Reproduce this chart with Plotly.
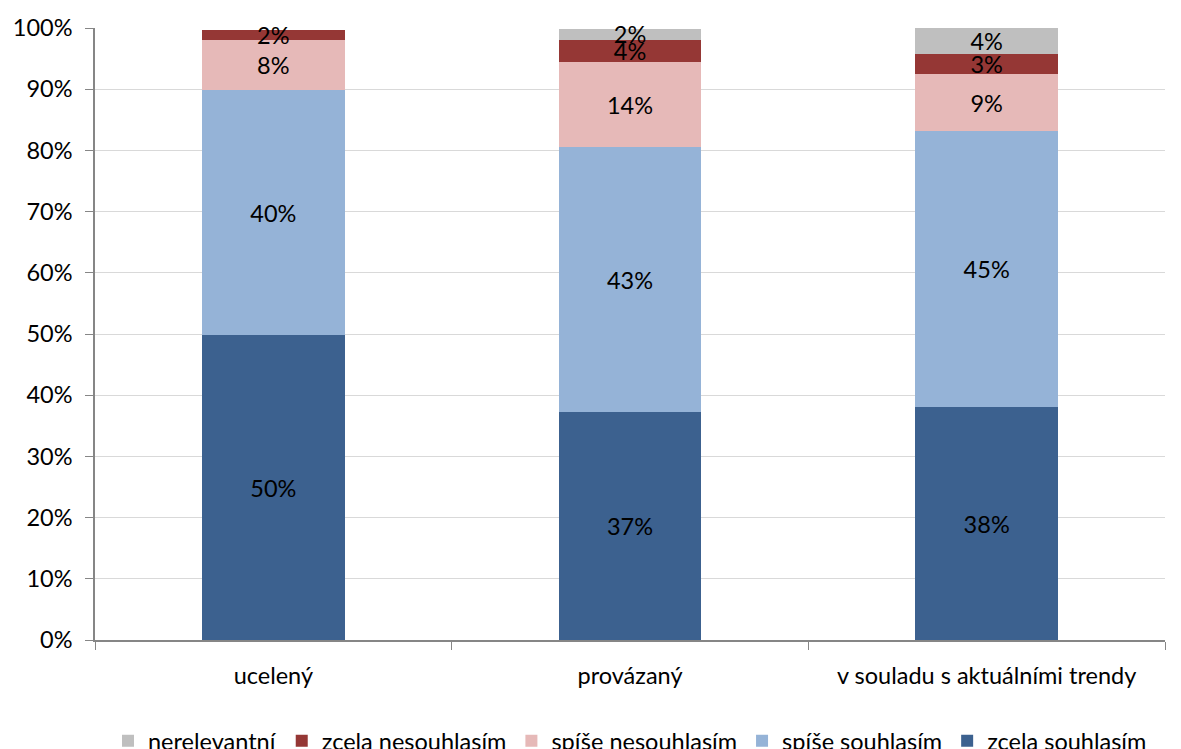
import plotly.graph_objects as go

categories = ["ucelený", "provázaný", "v souladu s aktuálními trendy"]

zcela_souhlasim = [49.8, 37.2, 38.0]
spise_souhlasim = [40.0, 43.3, 45.1]
spise_nesouhlasim = [8.2, 13.9, 9.4]
zcela_nesouhlasim = [1.6, 3.6, 3.2]
nerelevantni = [None, 1.9, 4.3]

series = [
    ("zcela souhlasím", zcela_souhlasim, "#3C618F"),
    ("spíše souhlasím", spise_souhlasim, "#95B3D7"),
    ("spíše nesouhlasím", spise_nesouhlasim, "#E6B9B8"),
    ("zcela nesouhlasím", zcela_nesouhlasim, "#953735"),
    ("nerelevantní", nerelevantni, "#BFBFBF"),
]

FONT = "Lato"
FS = 23.5

fig = go.Figure()
for name, vals, color in series:
    fig.add_trace(go.Bar(
        name=name, x=categories, y=vals,
        marker=dict(color=color, line=dict(width=0)),
        texttemplate="%{y:.0f}%",
        textposition="inside",
        insidetextanchor="middle",
        textangle=0,
        textfont=dict(family=FONT, size=FS, color="black"),
        cliponaxis=False,
        width=0.4,
    ))

fig.update_layout(
    barmode="stack",
    width=1181, height=749,
    margin=dict(l=87, r=24, t=20, b=117, autoexpand=False),
    paper_bgcolor="white", plot_bgcolor="white",
    font=dict(family=FONT, size=FS, color="black"),
    uniformtext=dict(minsize=FS, mode="show"),
    showlegend=True,
    legend=dict(
        orientation="h", x=0.5, xanchor="center", y=-0.165, yanchor="middle",
        traceorder="reversed", font=dict(family=FONT, size=FS, color="black"),
        itemwidth=30,
    ),
)
fig.update_yaxes(
    range=[0, 100], dtick=10, ticksuffix="%", automargin=False,
    showgrid=True, gridcolor="#D9D9D9", gridwidth=1,
    showline=True, linecolor="#868686", linewidth=1.5,
    ticks="outside", ticklen=8, tickcolor="#868686",
    ticklabelstandoff=8, zeroline=False,
)
fig.update_xaxes(
    range=[-0.5, 2.5], automargin=False,
    showline=True, linecolor="#868686", linewidth=1.5,
    ticks="outside", ticklen=8, tickcolor="#868686", tickson="boundaries",
    ticklabelstandoff=14,
)

fig.write_html("out.html")
